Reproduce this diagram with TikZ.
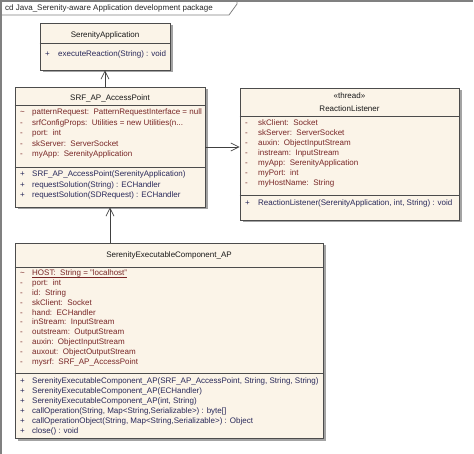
\documentclass[tikz,border=0pt]{standalone}
\usepackage{fontspec}
\setmainfont{Liberation Sans}
\usetikzlibrary{arrows.meta,shadows}
\definecolor{boxfill}{RGB}{251,244,232}
\definecolor{attrcol}{RGB}{120,38,38}
\definecolor{opcol}{RGB}{40,40,90}
\definecolor{framecol}{RGB}{128,128,128}

\begin{document}
\begin{tikzpicture}[x=1pt,y=-1pt]
 \tikzset{
  arrow/.style={draw=black!75,line width=0.7pt,-{Straight Barb[length=8pt,width=8pt]}},
  classbox/.style={draw=black!70,fill=boxfill,line width=0.8pt,inner sep=0pt,
    drop shadow={shadow xshift=2.5pt,shadow yshift=-2.5pt,fill=black!45,opacity=0.8}},
  divider/.style={draw=black!70,line width=0.8pt},
  member/.style={inner sep=0pt,anchor=base west,font=\fontsize{8}{10}\selectfont},
  attr/.style={member,text=attrcol},
  oper/.style={member,text=opcol},
  title/.style={inner sep=0pt,anchor=base,font=\fontsize{8}{10}\selectfont,text=black!90}
 }
 \useasboundingbox (0,0) rectangle (474,454);

 % package frame
 \draw[framecol,line width=2pt] (1,454) -- (1,1) -- (473,1);
 \draw[framecol,line width=0.8pt] (1,15) -- (229,15) -- (237,4) -- (237,1);
 \node[member,text=black!85] (pkg) at (5,11) {cd Java\_Serenity-aware Application development package};

 % classes
 \node[classbox,minimum width=130pt,minimum height=47pt] (app) at (105,46.5) {};
 \node[classbox,minimum width=190pt,minimum height=120pt] (srf) at (110,147) {};
 \node[classbox,minimum width=219pt,minimum height=132pt] (rl) at (349.5,154) {};
 \node[classbox,minimum width=308pt,minimum height=195pt] (sec) at (169,340.5) {};

 \draw[divider] (app.west |- 0,43) -- (app.east |- 0,43);
 \draw[divider] (srf.west |- 0,105) -- (srf.east |- 0,105);
 \draw[divider] (srf.west |- 0,167) -- (srf.east |- 0,167);
 \draw[divider] (rl.west |- 0,116) -- (rl.east |- 0,116);
 \draw[divider] (rl.west |- 0,195) -- (rl.east |- 0,195);
 \draw[divider] (sec.west |- 0,267) -- (sec.east |- 0,267);
 \draw[divider] (sec.west |- 0,373) -- (sec.east |- 0,373);

 % names
 \node[title] (appname) at (105,37.5) {SerenityApplication};
 \node[title] (srfname) at (110,101) {SRF\_AP\_AccessPoint};
 \node[title] (rlstereo) at (349.5,98.5) {«thread»};
 \node[title] (rlname) at (349.5,112) {ReactionListener};
 \node[title] (secname) at (169,258) {SerenityExecutableComponent\_AP};

 % SerenityApplication
 \node[oper] (appv0) at (45,57) {+};
 \node[oper] (appo0) at (58,57) {executeReaction(String) : void};

 % SRF_AP_AccessPoint
 \foreach \v/\t [count=\i from 0] in {{\textasciitilde}/{patternRequest:\ \ PatternRequestInterface = null},
   -/{srfConfigProps:\ \ Utilities = new Utilities(n...},
   -/{port:\ \ int},
   -/{skServer:\ \ ServerSocket},
   -/{myApp:\ \ SerenityApplication}}
 {
  \node[attr] (srfv\i) at (20,115+10.5*\i) {\v};
  \node[attr] (srfa\i) at (32,115+10.5*\i) {\t};
 }
 \foreach \t [count=\i from 0] in {{SRF\_AP\_AccessPoint(SerenityApplication)},
   {requestSolution(String) : ECHandler},
   {requestSolution(SDRequest) : ECHandler}}
 {
  \node[oper] (srfw\i) at (20,177+10.5*\i) {+};
  \node[oper] (srfo\i) at (32,177+10.5*\i) {\t};
 }

 % ReactionListener
 \foreach \t [count=\i from 0] in {{skClient:\ \ Socket},
   {skServer:\ \ ServerSocket},
   {auxin:\ \ ObjectInputStream},
   {instream:\ \ InputStream},
   {myApp:\ \ SerenityApplication},
   {myPort:\ \ int},
   {myHostName:\ \ String}}
 {
  \node[attr] (rlv\i) at (245,126+10*\i) {-};
  \node[attr] (rla\i) at (258,126+10*\i) {\t};
 }
 \node[oper] (rlw0) at (245,206) {+};
 \node[oper] (rlo0) at (258,206) {ReactionListener(SerenityApplication, int, String) : void};

 % SerenityExecutableComponent_AP
 \foreach \v/\t [count=\i from 0] in {{\textasciitilde}/{HOST:\ \ String = "localhost"},
   -/{port:\ \ int},
   -/{id:\ \ String},
   -/{skClient:\ \ Socket},
   -/{hand:\ \ ECHandler},
   -/{inStream:\ \ InputStream},
   -/{outstream:\ \ OutputStream},
   -/{auxin:\ \ ObjectInputStream},
   -/{auxout:\ \ ObjectOutputStream},
   -/{mysrf:\ \ SRF\_AP\_AccessPoint}}
 {
  \node[attr] (secv\i) at (20,276+9.8*\i) {\v};
  \node[attr] (seca\i) at (32,276+9.8*\i) {\t};
 }
 % static attribute
 \draw[attrcol,line width=0.5pt] ([yshift=-1.2pt]seca0.base west) -- ([yshift=-1.2pt]seca0.base east);
 \foreach \t [count=\i from 0] in {{SerenityExecutableComponent\_AP(SRF\_AP\_AccessPoint, String, String, String)},
   {SerenityExecutableComponent\_AP(ECHandler)},
   {SerenityExecutableComponent\_AP(int, String)},
   {callOperation(String, Map<String,Serializable>) : byte[]},
   {callOperationObject(String, Map<String,Serializable>) : Object},
   {close() : void}}
 {
  \node[oper] (secw\i) at (20,384+9.8*\i) {+};
  \node[oper] (seco\i) at (32,384+9.8*\i) {\t};
 }

 % associations
 \draw[arrow] (app.south |- srf.north) -- (app.south);
 \draw[arrow] (srf.east) -- (srf.east -| rl.west);
 \draw[arrow] (srf.south |- sec.north) -- (srf.south);
\end{tikzpicture}
\end{document}
